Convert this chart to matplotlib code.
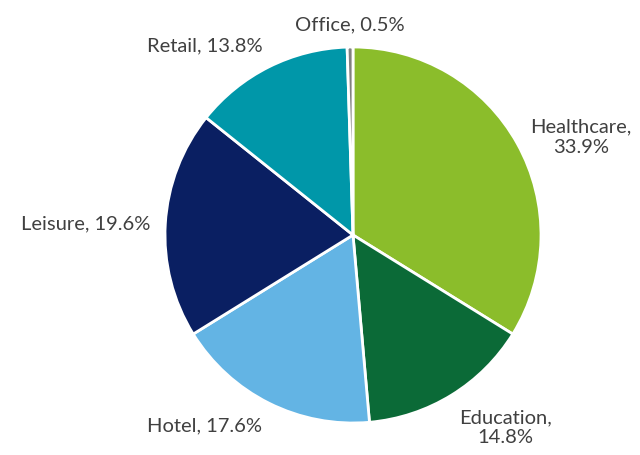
import numpy as np
import matplotlib
matplotlib.use("Agg")
import matplotlib.pyplot as plt

# sector shares (%), clockwise from 12 o'clock
sectors = ["Healthcare", "Education", "Hotel", "Leisure", "Retail", "Office"]
shares = [33.9, 14.8, 17.6, 19.6, 13.8, 0.5]
colors = ["#8BBD2B", "#0B6A37", "#63B4E4", "#0A1F62", "#0097A9", "#808080"]
two_line = ["Healthcare", "Education"]

plt.rcParams["font.family"] = ["Lato", "DejaVu Sans"]

fig = plt.figure(figsize=(6.4, 4.56), dpi=100)
# pie centre at (353, 236) px, radius 188 px
cx, cy, r = 353, 236, 188
ax = fig.add_axes([(cx - r) / 640, (456 - cy - r) / 456, 2 * r / 640, 2 * r / 456])
wedges, _ = ax.pie(shares, colors=colors, startangle=90, counterclock=False,
                   radius=1, wedgeprops=dict(edgecolor="white", linewidth=2))
ax.set_xlim(-1, 1)
ax.set_ylim(-1, 1)
ax.set_aspect("equal")
ax.axis("off")

for w, name, val in zip(wedges, sectors, shares):
    mid = np.deg2rad((w.theta1 + w.theta2) / 2)
    c, s = np.cos(mid), np.sin(mid)
    x, y = 1.08 * c, 1.08 * s
    ha = "left" if c > 0.3 else ("right" if c < -0.3 else "center")
    va = "bottom" if s > 0.5 else ("top" if s < -0.5 else "center")
    sep = ",\n" if name in two_line else ", "
    ax.text(x, y, f"{name}{sep}{val}%", ha=ha, va=va, multialignment="center",
            fontsize=14.5, color="#404040", clip_on=False, linespacing=1.2)

fig.savefig("out.png", dpi=100)
